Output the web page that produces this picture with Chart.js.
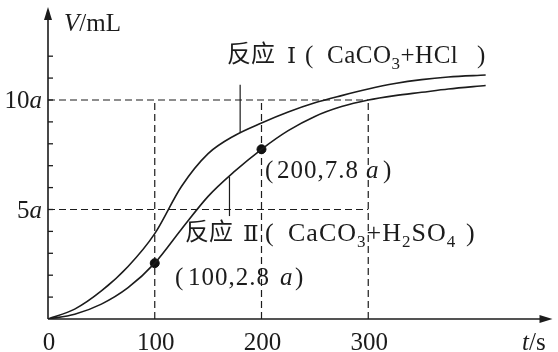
<!DOCTYPE html>
<html>
<head>
<meta charset="utf-8">
<script src="https://cdn.jsdelivr.net/npm/chart.js@4"></script>
<style>
  html, body { margin: 0; padding: 0; background: #fff; }
  canvas { display: block; }
</style>
</head>
<body>
<canvas id="gasVolume" width="558" height="352"></canvas>
<script>
// time axis (s) and gas volume (in units of a, mL)
const timeS = [0, 25, 50, 75, 100, 125, 150, 175, 200, 225, 250, 275, 300, 325, 350, 375, 410];
const volumeHCl = [0, 0.45, 1.28, 2.4, 3.9, 6.05, 7.55, 8.38, 8.95, 9.45, 9.87, 10.2, 10.5, 10.75, 10.93, 11.05, 11.14];
const volumeH2SO4 = [0, 0.22, 0.68, 1.43, 2.55, 4.1, 5.6, 6.75, 7.75, 8.6, 9.25, 9.7, 10.0, 10.2, 10.35, 10.5, 10.66];

// marked points on curve II
const markedT = [100, 200];
const markedV = [2.55, 7.75];

// dashed guides and tick labels
const guideT = [100, 200, 300];
const guideV = [5, 10];
const xTickValues = [0, 100, 200, 300];
const yTickValues = [5, 10];
const yMinorTicks = [1, 2, 3, 4, 5, 6, 7, 8, 9, 10, 11, 12];

// leader lines from curve labels: t, from v, to v
const leaderT = [180, 170];
const leaderFrom = [8.5, 6.5];
const leaderTo = [10.7, 4.7];

const INK = '#1c1c1c';
const SERIF = '"Liberation Serif", "Times New Roman", serif';
const CJK = '"Noto Sans CJK SC", sans-serif';
const ROMAN = '"DejaVu Serif", "Noto Sans CJK SC", serif';

// draws text pieces one after another; a piece may set its own x
function drawRich(ctx, x, baseline, parts) {
    let cx = x;
    parts.forEach(p => {
        if (p.x !== undefined) cx = p.x;
        ctx.font = p.f;
        ctx.letterSpacing = (p.ls || 0) + 'px';
        ctx.fillText(p.t, cx, baseline + (p.dy || 0));
        cx += ctx.measureText(p.t).width;
    });
    ctx.letterSpacing = '0px';
}

const diagram = {
    id: 'diagram',
    beforeDatasetsDraw(chart) {
        const ctx = chart.ctx;
        const xs = chart.scales.x, ys = chart.scales.y;
        const x0 = xs.getPixelForValue(0), y0 = ys.getPixelForValue(0);
        ctx.save();
        ctx.strokeStyle = INK;

        // dashed guides
        ctx.lineWidth = 1.2;
        ctx.setLineDash([7, 4]);
        guideT.forEach(t => {
            const px = xs.getPixelForValue(t);
            ctx.beginPath();
            ctx.moveTo(px, y0);
            ctx.lineTo(px, ys.getPixelForValue(10));
            ctx.stroke();
        });
        guideV.forEach(v => {
            const py = ys.getPixelForValue(v);
            ctx.beginPath();
            ctx.moveTo(x0, py);
            ctx.lineTo(xs.getPixelForValue(300), py);
            ctx.stroke();
        });
        ctx.setLineDash([]);

        // axes
        const top = chart.chartArea.top, right = chart.chartArea.right;
        ctx.lineWidth = 1.6;
        ctx.beginPath();
        ctx.moveTo(x0, y0);
        ctx.lineTo(x0, top + 8);
        ctx.moveTo(x0, y0);
        ctx.lineTo(right - 8, y0);
        ctx.stroke();
        ctx.fillStyle = INK;
        ctx.beginPath();
        ctx.moveTo(x0, top - 1);
        ctx.lineTo(x0 - 4, top + 12);
        ctx.lineTo(x0 + 4, top + 12);
        ctx.closePath();
        ctx.fill();
        ctx.beginPath();
        ctx.moveTo(right, y0);
        ctx.lineTo(right - 13, y0 - 4);
        ctx.lineTo(right - 13, y0 + 4);
        ctx.closePath();
        ctx.fill();

        // minor ticks on y axis
        ctx.lineWidth = 1.3;
        yMinorTicks.forEach(v => {
            const py = ys.getPixelForValue(v);
            ctx.beginPath();
            ctx.moveTo(x0, py);
            ctx.lineTo(x0 + 5, py);
            ctx.stroke();
        });
        ctx.restore();
    },
    afterDatasetsDraw(chart) {
        const ctx = chart.ctx;
        const xs = chart.scales.x, ys = chart.scales.y;
        const x0 = xs.getPixelForValue(0);
        ctx.save();
        ctx.strokeStyle = INK;
        ctx.fillStyle = INK;

        // leader lines
        ctx.lineWidth = 1.2;
        leaderT.forEach((t, i) => {
            const px = xs.getPixelForValue(t);
            ctx.beginPath();
            ctx.moveTo(px, ys.getPixelForValue(leaderFrom[i]));
            ctx.lineTo(px, ys.getPixelForValue(leaderTo[i]));
            ctx.stroke();
        });

        // tick labels
        ctx.textBaseline = 'alphabetic';
        ctx.textAlign = 'center';
        ctx.font = '25px ' + SERIF;
        xTickValues.forEach(t => {
            ctx.fillText(String(t), xs.getPixelForValue(t) + 1, 350);
        });
        ctx.textAlign = 'left';
        yTickValues.forEach(v => {
            const py = ys.getPixelForValue(v) + 8.5;
            ctx.font = '25px ' + SERIF;
            const num = String(v);
            const wNum = ctx.measureText(num).width;
            ctx.font = 'italic 25px ' + SERIF;
            const wA = ctx.measureText('a').width;
            drawRich(ctx, x0 - 6 - wNum - wA, py, [
                { t: num, f: '25px ' + SERIF },
                { t: 'a', f: 'italic 25px ' + SERIF }
            ]);
        });

        // axis titles
        drawRich(ctx, 64, 31, [
            { t: 'V', f: 'italic 25px ' + SERIF },
            { t: '/mL', f: '25px ' + SERIF }
        ]);
        drawRich(ctx, 522, 350, [
            { t: 't', f: 'italic 25px ' + SERIF },
            { t: '/s', f: '25px ' + SERIF }
        ]);

        // curve labels
        const m1 = '25px ' + SERIF, s1 = '17px ' + SERIF;
        drawRich(ctx, 227, 63, [
            { t: '反应', f: '24px ' + CJK, dy: -1 },
            { t: 'Ⅰ', f: '23px ' + ROMAN, x: 287 },
            { t: '(', f: m1, x: 305 },
            { t: 'CaCO', f: m1, x: 327, ls: 0.5 },
            { t: '3', f: s1, dy: 6, ls: 0.5 },
            { t: '+HCl', f: m1, ls: 0.5 },
            { t: ')', f: m1, x: 477 }
        ]);
        const m2 = '26px ' + SERIF, s2 = '17px ' + SERIF;
        drawRich(ctx, 185, 241, [
            { t: '反应', f: '24px ' + CJK, dy: -1 },
            { t: 'Ⅱ', f: '23px ' + ROMAN, x: 243 },
            { t: '(', f: m2, x: 265 },
            { t: 'CaCO', f: m2, x: 288, ls: 1 },
            { t: '3', f: s2, dy: 6, ls: 1 },
            { t: '+H', f: m2, ls: 1 },
            { t: '2', f: s2, dy: 6, ls: 1 },
            { t: 'SO', f: m2, ls: 1 },
            { t: '4', f: s2, dy: 6 },
            { t: ')', f: m2, x: 466 }
        ]);

        // point labels
        drawRich(ctx, 265, 178, [
            { t: '(', f: m1 },
            { t: '200,7.8', f: m1, x: 277, ls: 1 },
            { t: 'a', f: 'italic 25px ' + SERIF, x: 366 },
            { t: ')', f: m1, x: 383 }
        ]);
        drawRich(ctx, 175, 285, [
            { t: '(', f: m1 },
            { t: '100,2.8', f: m1, x: 188, ls: 1 },
            { t: 'a', f: 'italic 25px ' + SERIF, x: 280 },
            { t: ')', f: m1, x: 295 }
        ]);
        ctx.restore();
    }
};

const ctx = document.getElementById('gasVolume').getContext('2d');
new Chart(ctx, {
    type: 'line',
    data: {
        datasets: [
            {
                label: '反应Ⅰ(CaCO3+HCl)',
                data: timeS.map((t, i) => ({ x: t, y: volumeHCl[i] })),
                borderColor: INK,
                borderWidth: 1.6,
                pointRadius: 0,
                cubicInterpolationMode: 'monotone',
                fill: false
            },
            {
                label: '反应Ⅱ(CaCO3+H2SO4)',
                data: timeS.map((t, i) => ({ x: t, y: volumeH2SO4[i] })),
                borderColor: INK,
                borderWidth: 1.6,
                pointRadius: 0,
                cubicInterpolationMode: 'monotone',
                fill: false
            },
            {
                label: 'points',
                data: markedT.map((t, i) => ({ x: t, y: markedV[i] })),
                showLine: false,
                pointRadius: 4.5,
                pointBackgroundColor: '#111',
                pointBorderColor: '#111'
            }
        ]
    },
    options: {
        responsive: false,
        devicePixelRatio: 1,
        animation: false,
        layout: { padding: { left: 48, right: 1, top: 8, bottom: 33 } },
        scales: {
            x: { type: 'linear', min: 0, max: 472.6, display: false },
            y: { type: 'linear', min: 0, max: 14.2, display: false }
        },
        plugins: {
            legend: { display: false },
            tooltip: { enabled: false }
        }
    },
    plugins: [diagram]
});
</script>
</body>
</html>
